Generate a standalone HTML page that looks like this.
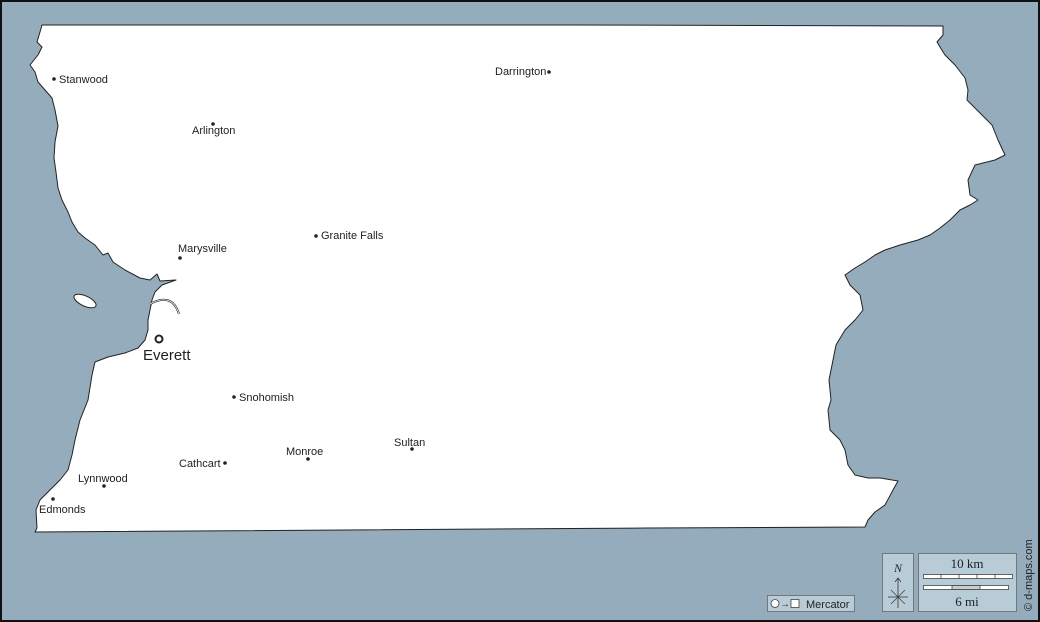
<!DOCTYPE html>
<html><head><meta charset="utf-8"><style>
html,body{margin:0;padding:0;}
body{width:1040px;height:622px;overflow:hidden;background:#94acbb;}
svg{display:block;}
text{font-family:"Liberation Sans",Arial,sans-serif;fill:#222;}
</style></head><body>
<svg width="1040" height="622" viewBox="0 0 1040 622">
<rect x="1" y="1" width="1038" height="620" fill="#94acbb" stroke="#111" stroke-width="2"/>
<path fill="#fff" stroke="#222" stroke-width="1" stroke-linejoin="round" d="
M42,25 L570,25 L943,26 L943,35 L937,42 L940,47 L945,55 L955,65 L965,78 L968,90 L967,100 L977,110 L992,125 L998,140 L1005,155 L995,160 L975,165 L968,180 L970,195 L978,200 L970,205 L960,210 L950,220 L940,228 L930,235 L918,240 L900,245 L885,250 L875,255 L865,262 L855,268 L845,275 L850,285 L860,295 L863,310 L855,320 L845,330 L836,345 L833,360 L829,380 L831,400 L828,410 L830,430 L840,440 L845,450 L848,465 L855,475 L868,478 L880,478 L898,481 L893,490 L885,505 L875,512 L868,520 L865,527 L648,528 L35,532
L37,528 L36,510 L40,500 L50,490 L60,480 L68,470 L72,455 L75,440 L80,420 L88,400 L92,375 L95,362 L108,357 L125,353 L138,348 L145,340 L148,330 L148,320 L150,310 L152,300 L155,292 L162,285 L176,280 L160,281 L157,274 L150,280 L140,278 L125,270 L113,262 L108,253 L103,255 L95,245 L85,238 L78,232 L72,222 L68,212 L62,200 L58,188 L56,172 L54,158 L55,142 L58,126 L55,110 L52,98 L45,90 L38,82 L35,72 L30,65 L38,55 L42,47 L37,42 L40,32 Z"/>
<ellipse cx="85" cy="301" rx="12" ry="5" transform="rotate(25 85 301)" fill="#fff" stroke="#222"/>
<path d="M150,304 Q172,292 179,314" fill="none" stroke="#222" stroke-width="2"/>
<path d="M150,304 Q172,292 179,314" fill="none" stroke="#fff" stroke-width="0.8"/>
<g font-size="11">
<circle cx="54" cy="79" r="1.8" fill="#222"/><text x="59" y="83">Stanwood</text>
<circle cx="549" cy="72" r="1.8" fill="#222"/><text x="495" y="75">Darrington</text>
<circle cx="213" cy="124" r="1.8" fill="#222"/><text x="192" y="134">Arlington</text>
<circle cx="316" cy="236" r="1.8" fill="#222"/><text x="321" y="239">Granite Falls</text>
<circle cx="180" cy="258" r="1.8" fill="#222"/><text x="178" y="252">Marysville</text>
<circle cx="234" cy="397" r="1.8" fill="#222"/><text x="239" y="401">Snohomish</text>
<circle cx="225" cy="463" r="1.8" fill="#222"/><text x="179" y="467">Cathcart</text>
<circle cx="308" cy="459" r="1.8" fill="#222"/><text x="286" y="455">Monroe</text>
<circle cx="412" cy="449" r="1.8" fill="#222"/><text x="394" y="446">Sultan</text>
<circle cx="104" cy="486" r="1.8" fill="#222"/><text x="78" y="482">Lynnwood</text>
<circle cx="53" cy="499" r="1.8" fill="#222"/><text x="39" y="513">Edmonds</text>
</g>
<circle cx="159" cy="339" r="3.5" fill="#fff" stroke="#222" stroke-width="2"/>
<text x="143" y="360" font-size="15">Everett</text>
<rect x="767.5" y="595.5" width="87" height="16" fill="#b8ccd8" stroke="#777"/>
<circle cx="775" cy="603.5" r="4" fill="#fff" stroke="#444" stroke-width="0.8"/>
<text x="780" y="607" font-size="10">→</text>
<rect x="791" y="599.5" width="8" height="8" fill="#fff" stroke="#444" stroke-width="0.8"/>
<text x="806" y="608" font-size="11">Mercator</text>
<rect x="882.5" y="553.5" width="31" height="58" fill="#b8ccd8" stroke="#777"/>
<text x="898" y="572" font-size="12" font-style="italic" text-anchor="middle" font-family="Liberation Serif,serif" style="font-family:'Liberation Serif',serif">N</text>
<line x1="898" y1="578" x2="898" y2="608" stroke="#333" stroke-width="0.8"/>
<path d="M895,582 L898,578 L901,582" fill="none" stroke="#333" stroke-width="0.8"/>
<line x1="888" y1="597" x2="908" y2="597" stroke="#333" stroke-width="0.8"/>
<line x1="891" y1="590" x2="905" y2="604" stroke="#333" stroke-width="0.6"/>
<line x1="905" y1="590" x2="891" y2="604" stroke="#333" stroke-width="0.6"/>
<rect x="918.5" y="553.5" width="98" height="58" fill="#b8ccd8" stroke="#777"/>
<text x="967" y="568" font-size="13" text-anchor="middle" style="font-family:'Liberation Serif',serif">10 km</text>
<rect x="923.5" y="574.5" width="89" height="4" fill="#fff" stroke="#444" stroke-width="0.8"/>
<path d="M941,574 V579 M959,574 V579 M977,574 V579 M995,574 V579" stroke="#444" stroke-width="0.8"/>
<rect x="923.5" y="585.5" width="85" height="4" fill="#fff" stroke="#444" stroke-width="0.8"/>
<rect x="952" y="585.5" width="28" height="4" fill="#ccc" stroke="#444" stroke-width="0.8"/>
<text x="967" y="606" font-size="13" text-anchor="middle" style="font-family:'Liberation Serif',serif">6 mi</text>
<text transform="translate(1032,611) rotate(-90)" font-size="11">© d-maps.com</text>
</svg>
</body></html>
